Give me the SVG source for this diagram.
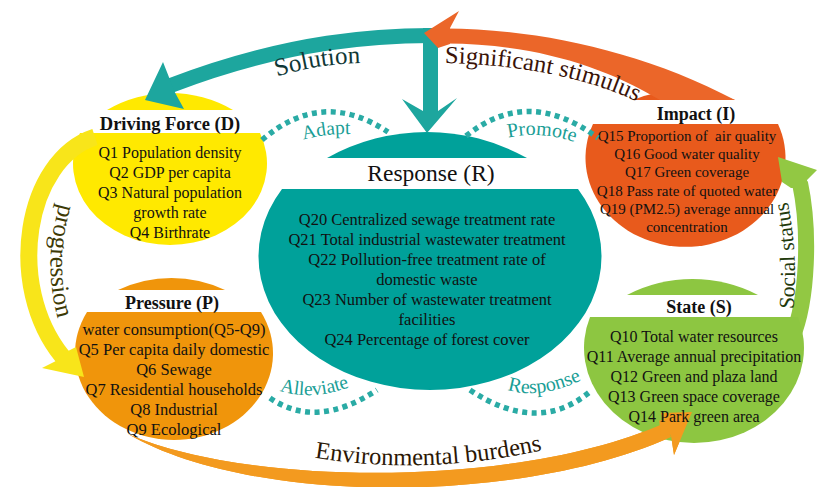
<svg xmlns="http://www.w3.org/2000/svg" width="817" height="487" viewBox="0 0 817 487" font-family="'Liberation Serif', 'Times New Roman', Times, serif">
<defs>
<style>
text{font-family:'Liberation Serif','Times New Roman',Times,serif}
.t{fill:#111;text-anchor:middle}
.b16{font-size:16px}
.b165{font-size:16.5px}
.b15{font-size:15px}
.ti{font-size:18px;font-weight:bold}
.dash{fill:none;stroke:#2AABA5;stroke-width:5.5;stroke-dasharray:5 4.5}
.dl{font-size:20px;fill:#1A9E96;text-anchor:middle}
.al{text-anchor:middle}
</style>
<path id="p-sol" d="M 270,79 Q 316,63 368,63"/>
<path id="p-sig" d="M 443,63 C 510,64 590,76 645,106"/>
<path id="p-env" d="M 305,456 Q 425,478 552,448"/>
<path id="p-soc" d="M 793,313 Q 799,256 787,198"/>
<path id="p-pro" d="M 62,196 Q 40,262 60,326"/>
<path id="p-adapt" d="M 298,141 Q 325,133 356,134"/>
<path id="p-prom" d="M 503,139 Q 540,129 580,144"/>
<path id="p-all" d="M 277,390 Q 312,402 352,386"/>
<path id="p-resp" d="M 503,388 Q 538,402 586,378"/>
</defs>
<rect width="817" height="487" fill="#fff"/>

<g id="node-D">
<path d="M 107,110 A 125 125 0 0 1 233,110 Z" fill="#FFE900"/>
<path d="M 80,133 A 97 81.6 0 1 0 260,133 Z" fill="#FFE900"/>
<text class="t ti" x="170" y="130" style="font-size:18.5px">Driving Force (D)</text>
<text class="t b16" x="170" y="158">Q1 Population density</text>
<text class="t b16" x="170" y="178">Q2 GDP per capita</text>
<text class="t b16" x="170" y="198">Q3 Natural population</text>
<text class="t b16" x="170" y="218">growth rate</text>
<text class="t b16" x="170" y="238">Q4 Birthrate</text>
</g>

<g id="node-P">
<path d="M 118,290 A 125 125 0 0 1 225,290 Z" fill="#F0950B"/>
<path d="M 87,312 A 99 86.6 0 1 0 261,312 Z" fill="#F0950B"/>
<text class="t ti" x="172" y="309">Pressure (P)</text>
<text class="t b165" x="174" y="335">water consumption(Q5-Q9)</text>
<text class="t b165" x="174" y="355">Q5 Per capita daily domestic</text>
<text class="t b165" x="174" y="375">Q6 Sewage</text>
<text class="t b165" x="174" y="395">Q7 Residential households</text>
<text class="t b165" x="174" y="415">Q8 Industrial</text>
<text class="t b165" x="174" y="435">Q9 Ecological</text>
</g>

<g id="node-R">
<path d="M 327,158 A 205 205 0 0 1 527,158 Z" fill="#00A19A"/>
<path d="M 282,189 A 171.5 133.5 0 1 0 578,189 Z" fill="#00A19A"/>
<text class="t" x="431" y="181" style="font-size:23.5px">Response (R)</text>
<text class="t b165" x="427" y="225">Q20 Centralized sewage treatment rate</text>
<text class="t b165" x="427" y="245">Q21 Total industrial wastewater treatment</text>
<text class="t b165" x="427" y="265">Q22 Pollution-free treatment rate of</text>
<text class="t b165" x="427" y="285">domestic waste</text>
<text class="t b165" x="427" y="305">Q23 Number of wastewater treatment</text>
<text class="t b165" x="427" y="325">facilities</text>
<text class="t b165" x="427" y="345">Q24 Percentage of forest cover</text>
</g>

<g id="node-I">
<path d="M 633,100 A 135 135 0 0 1 735,100 Z" fill="#E85A1C"/>
<path d="M 593,124 A 100 89 0 1 0 778,124 Z" fill="#E85A1C"/>
<text class="t ti" x="696" y="120">Impact (I)</text>
<text class="t b15" x="687" y="141" style="white-space:pre">Q15 Proportion of  air quality</text>
<text class="t b15" x="687" y="159">Q16 Good water quality</text>
<text class="t b15" x="687" y="177">Q17 Green coverage</text>
<text class="t b15" x="687" y="196">Q18 Pass rate of quoted water</text>
<text class="t b15" x="687" y="214">Q19 (PM2.5) average annual</text>
<text class="t b15" x="687" y="232">concentration</text>
</g>

<g id="connectors">
<g fill="#1DA69E">
<path d="M 438,35.5 C 380,35 290,40 172,85 L 160,92" fill="none" stroke="#1DA69E" stroke-width="15" stroke-linejoin="round"/>
<polygon points="145,100 163,62 169.3,78 174.7,92 184,109"/>
<rect x="423" y="28" width="15" height="86"/>
<polygon points="402,99 427,133 457,98 438,111 423,111"/>
</g>
<text class="al" style="font-size:25px;fill:#103836"><textPath href="#p-sol" startOffset="50%">Solution</textPath></text>

<g fill="#EB6629">
<path d="M 446,28.5 C 535,29 640,50 735,100 L 660,100 C 600,64 530,44 446,43.5 Z"/>
<polygon points="424,33 459,11 450,28 450,44 438,48"/>
</g>
<text class="al" style="font-size:24.5px;fill:#3A1308;text-anchor:start"><textPath href="#p-sig" startOffset="2">Significant stimulus</textPath></text>

<g fill="#92C843">
<path d="M 792,338 C 808,300 810,230 800,183" fill="none" stroke="#92C843" stroke-width="16"/>
<polygon points="778,157 817,170 807,180 808,188 791,188 782,182"/>
</g>
<text class="al" style="font-size:21.5px;fill:#1F3A0C"><textPath href="#p-soc" startOffset="50%">Social status</textPath></text>

<g id="arrow-env" fill="#F39A1F">
<path d="M 128,434 C 250,487 520,488 665,423 L 671,437 C 520,505 250,505 128,434 Z"/>
<path d="M 660,428 L 678,426" stroke="#F39A1F" stroke-width="15"/>
<polygon points="692,412 661,413 664.8,423.2 671.2,436.8 674,455"/>
</g>
<text class="al" style="font-size:24.5px;fill:#2B1705"><textPath href="#p-env" startOffset="50%">Environmental burdens</textPath></text>

<g fill="#F8E51A">
<path d="M 95,137 C 25,160 5,285 62,356 L 68,362" fill="none" stroke="#F8E51A" stroke-width="17" stroke-linejoin="round"/>
<polygon points="84,377 42,368 55.4,361.3 68.6,350.7 76,347"/>
</g>
<text class="al" style="font-size:25px;fill:#3D3A05"><textPath href="#p-pro" startOffset="50%">progression</textPath></text>

<path class="dash" d="M 262,140 Q 322,88 388,132"/>
<text class="dl" style="font-size:19.5px"><textPath href="#p-adapt" startOffset="50%">Adapt</textPath></text>
<path class="dash" d="M 466,136 Q 528,86 598,138"/>
<text class="dl"><textPath href="#p-prom" startOffset="50%">Promote</textPath></text>
<path class="dash" d="M 270,398 Q 316,430 377,390"/>
<text class="dl" style="font-size:19.5px"><textPath href="#p-all" startOffset="50%">Alleviate</textPath></text>
<path class="dash" d="M 470,390 Q 539,436 592,390"/>
<text class="dl"><textPath href="#p-resp" startOffset="50%">Response</textPath></text>
</g>

<g id="node-S">
<path d="M 627,295 A 142 142 0 0 1 758,295 Z" fill="#8DC641"/>
<path d="M 590,317 A 110 95 0 1 0 798,317 Z" fill="#8DC641"/>
<use href="#arrow-env"/>
<text class="t ti" x="699" y="313">State (S)</text>
<text class="t b16" x="694" y="342">Q10 Total water resources</text>
<text class="t b16" x="694" y="362">Q11 Average annual precipitation</text>
<text class="t b16" x="694" y="382">Q12 Green and plaza land</text>
<text class="t b16" x="694" y="402">Q13 Green space coverage</text>
<text class="t b16" x="694" y="422">Q14 Park green area</text>
</g>
</svg>
